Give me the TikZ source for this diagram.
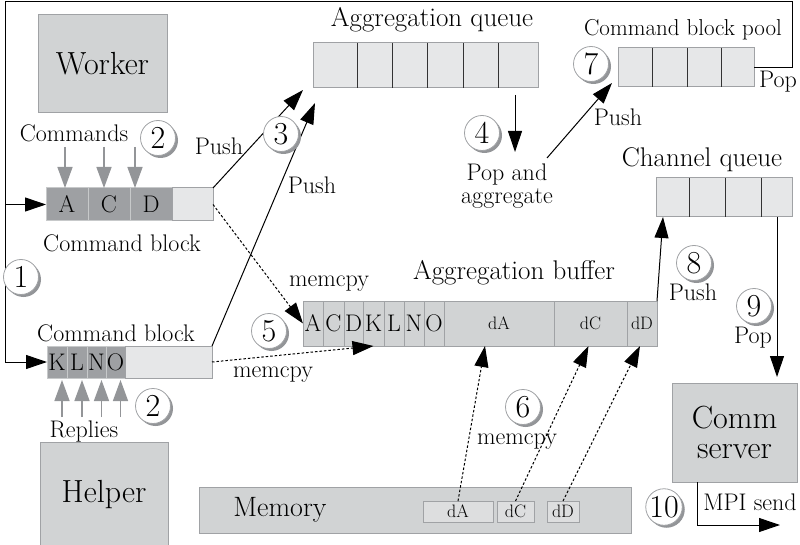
\documentclass[tikz,border=0pt]{standalone}
\usepackage{fontspec}
\usetikzlibrary{arrows.meta,positioning,shadows}
\definecolor{boxgray}{RGB}{209,211,212}
\definecolor{cellgray}{RGB}{158,160,163}
\definecolor{paper}{RGB}{230,231,232}
\definecolor{edgegray}{RGB}{160,162,165}
\definecolor{tipgray}{RGB}{147,149,152}
\newcommand{\boxfnt}{\fontsize{32}{30}\selectfont}
\newcommand{\headfnt}{\fontsize{27}{29}\selectfont}
\newcommand{\labfnt}{\fontsize{24}{23}\selectfont}
\newcommand{\cellfnt}{\fontsize{24}{26}\selectfont}
\newcommand{\subfnt}{\fontsize{18}{20}\selectfont}
\newcommand{\numfnt}{\fontsize{32}{34}\selectfont}

\begin{document}
\begin{tikzpicture}[x=1pt,y=-1pt,
  unit/.style={draw=edgegray,fill=boxgray,line width=1pt,inner sep=0pt,outer sep=0pt,font=\boxfnt,align=center},
  cell/.style={draw=edgegray,line width=1pt,inner sep=0pt,outer sep=0pt,minimum height=33pt,font=\cellfnt},
  darkcell/.style={cell,fill=cellgray,draw=boxgray!80!cellgray},lightcell/.style={cell,fill=paper},
  bufcell/.style={cell,fill=boxgray,minimum height=45pt},
  memcell/.style={cell,fill=paper!55!boxgray,minimum height=21pt,font=\subfnt},
  queue/.style={draw=edgegray,fill=paper,line width=1pt,inner sep=0pt,outer sep=0pt},
  divider/.style={line width=.8pt,black!80},
  lbl/.style={font=\labfnt,inner sep=0pt},head/.style={font=\headfnt,inner sep=0pt},
  numcirc/.style={circle,draw=edgegray,fill=white,line width=.8pt,minimum size=35pt,inner sep=0pt,font=\numfnt,
    drop shadow={shadow xshift=2.5pt,shadow yshift=-2.5pt,fill=tipgray,opacity=1}},
  arr/.style={-{Triangle[length=21pt,width=14pt]},line width=1pt},
  dotarr/.style={arr,dash pattern=on 2.5pt off 2pt},
  grayarr/.style={-{Triangle[length=21pt,width=15pt]},line width=1.5pt,tipgray}]
\useasboundingbox (0,0) rectangle (800,545);
% big boxes
\node[unit,minimum width=129pt,minimum height=98pt] (worker) at (102.5,64) {Worker};
\node[unit,minimum width=128pt,minimum height=106pt] (helper) at (104,495) {Helper};
\node[unit,minimum width=125pt,minimum height=99pt] (csv) at (734.5,432.5) {Comm\\server};
\node[unit,minimum width=432pt,minimum height=46pt] (mem) at (415,510) {};
\node[head,font=\fontsize{28}{30}\selectfont] (memlbl) at (280,510) {Memory};
\node[memcell,minimum width=70pt] (mA) at (458,511.5) {dA};
\node[memcell,minimum width=37pt] (mC) at (515.5,511.5) {dC};
\node[memcell,minimum width=32pt] (mD) at (563,511.5) {dD};
% command blocks
\node[darkcell,minimum width=42pt,anchor=west] (cA) at (46,204.5) {A};
\node[darkcell,minimum width=42pt,right=0pt of cA] (cC) {C};
\node[darkcell,minimum width=42pt,right=0pt of cC] (cD) {D};
\node[lightcell,minimum width=41pt,right=0pt of cD] (cE) {};
\node[darkcell,minimum width=20pt,minimum height=32pt,anchor=west] (kK) at (47,362) {K};
\node[darkcell,minimum width=20pt,minimum height=32pt,right=0pt of kK] (kL) {L};
\node[darkcell,minimum width=19pt,minimum height=32pt,right=0pt of kL] (kN) {N};
\node[darkcell,minimum width=19pt,minimum height=32pt,right=0pt of kN] (kO) {O};
\node[lightcell,minimum width=87pt,minimum height=32pt,right=0pt of kO] (kE) {};
% aggregation buffer
\node[bufcell,minimum width=20pt,anchor=west] (bA) at (303,323.5) {A};
\node[bufcell,minimum width=21pt,right=0pt of bA] (bC) {C};
\node[bufcell,minimum width=19pt,right=0pt of bC] (bD) {D};
\node[bufcell,minimum width=21pt,right=0pt of bD] (bK) {K};
\node[bufcell,minimum width=20pt,right=0pt of bK] (bL) {L};
\node[bufcell,minimum width=20pt,right=0pt of bL] (bN) {N};
\node[bufcell,minimum width=20pt,right=0pt of bN] (bO) {O};
\node[bufcell,minimum width=110pt,right=0pt of bO,font=\subfnt] (bdA) {dA};
\node[bufcell,minimum width=73pt,right=0pt of bdA,font=\subfnt] (bdC) {dC};
\node[bufcell,minimum width=30pt,right=0pt of bdC,font=\subfnt] (bdD) {dD};
% queues
\node[queue,minimum width=225pt,minimum height=45pt] (aq) at (425.5,65.5) {};
\foreach \x in {357,392,427,463,498} \draw[divider] (\x,0 |- aq.north) -- (\x,0 |- aq.south);
\node[queue,minimum width=136pt,minimum height=39pt] (pool) at (686,67.5) {};
\foreach \x in {652,687,721} \draw[divider] (\x,0 |- pool.north) -- (\x,0 |- pool.south);
\node[queue,minimum width=136pt,minimum height=39pt] (cq) at (724,197.5) {};
\foreach \x in {689,725,761} \draw[divider] (\x,0 |- cq.north) -- (\x,0 |- cq.south);
% labels
\node[lbl] (cmds) at (74,133) {Commands};
\node[lbl] (cblk1) at (122,243) {Command block};
\node[lbl] (cblk2) at (116,333) {Command block};
\node[lbl] (reps) at (84,432) {Replies};
\node[lbl] (push1) at (219,146) {Push};
\node[lbl] (push2) at (312,185) {Push};
\node[head] (aqlbl) at (432,20) {Aggregation queue};
\node[lbl,align=center] (aggrlbl) at (507,186) {Pop and\\aggregate};
\node[lbl] (push3) at (618,117) {Push};
\node[lbl,font=\fontsize{23}{25}\selectfont] (poollbl) at (683,30) {Command block pool};
\node[lbl] (pop1) at (778,82) {Pop};
\node[head] (cqlbl) at (702,160) {Channel queue};
\node[head] (buflbl) at (514,273) {Aggregation buffer};
\node[lbl] (mc1) at (329,284) {memcpy};
\node[lbl] (mc2) at (273,375) {memcpy};
\node[lbl] (mc3) at (517,442) {memcpy};
\node[lbl] (push4) at (693,292) {Push};
\node[lbl] (pop2) at (753,338) {Pop};
\node[lbl] (mpilbl) at (750,502) {MPI send};
% connectors
\coordinate (ne) at (792,2); \coordinate (nw) at (5,2);
\draw[arr] (pool.east) -| (ne) -- (nw) |- (kK.west);
\draw[arr] (nw |- cA.west) -- (cA.west);
\foreach \c/\d in {cA/-2pt,cC/-5pt,cD/-16pt} \draw[grayarr] ([xshift=\d,yshift=41pt]\c.north) -- ([xshift=\d]\c.north);
\foreach \c in {kK,kL,kN,kO} \draw[grayarr] ([xshift=5pt,yshift=-39pt]\c.south) -- ([xshift=5pt,yshift=-2pt]\c.south);
\coordinate (aqin1) at (303,90); \coordinate (aqin2) at (315,103);
\draw[arr] (cE.north east) -- (aqin1);
\draw[arr] (kE.north east) -- (aqin2);
\draw[dotarr] (cE.east) -- (bA.west);
\draw[dotarr] (kE.east) -- (bK.south);
\coordinate (popA) at (515,95); \coordinate (popB) at (515,152);
\draw[arr] (popA) -- (popB);
\coordinate (aggr) at (547,158);
\draw[arr] (aggr) -- ([xshift=-6pt,yshift=4pt]pool.south west);
\draw[arr] (bdD.north east) -- ([xshift=7pt]cq.south west);
\draw[arr] ([xshift=-15pt]cq.south east) -- ([xshift=-20pt,yshift=6pt]csv.north east);
\draw[dotarr] (mA.north) -- ([xshift=41pt]bdA.south west);
\draw[dotarr] (mC.north) -- ([xshift=-2pt]bdC.south);
\draw[dotarr] (mD.north) -- ([xshift=-2pt]bdD.south);
\coordinate (mpi) at (780,525);
\draw[arr] ([xshift=25pt]csv.south west) |- (mpi);
% step numbers
\node[numcirc] (n1) at (21,277) {1};
\node[numcirc] (n2a) at (158,138) {2};
\node[numcirc] (n2b) at (153,406) {2};
\node[numcirc] (n3) at (281,134) {3};
\node[numcirc] (n4) at (482,133) {4};
\node[numcirc] (n5) at (269,331) {5};
\node[numcirc] (n6) at (523,407) {6};
\node[numcirc] (n7) at (591,64) {7};
\node[numcirc] (n8) at (694,263) {8};
\node[numcirc] (n9) at (754,306) {9};
\node[numcirc] (n10) at (664,507) {10};
\end{tikzpicture}
\end{document}
